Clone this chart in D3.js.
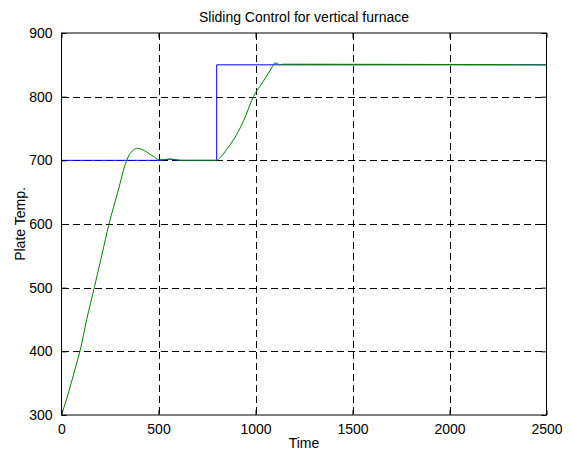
<!DOCTYPE html>
<html>
<head>
<meta charset="utf-8">
<script src="https://cdn.jsdelivr.net/npm/d3@7"></script>
<style>
  html, body { margin: 0; padding: 0; background: #ffffff; }
  svg { display: block; }
  text { font-family: "Liberation Sans", Arial, Helvetica, sans-serif; fill: #000; }
</style>
</head>
<body>
<svg id="chart" width="573" height="452"></svg>
<script>
// ---- data ----
const title = "Sliding Control for vertical furnace";
const xLabel = "Time";
const yLabel = "Plate Temp.";
const xTicks = [0, 500, 1000, 1500, 2000, 2500];
const yTicks = [300, 400, 500, 600, 700, 800, 900];

// reference (blue)
const refTime = [0, 520, 540, 560, 580, 600, 800, 800, 2500];
const refTemp = [700, 700, 701.5, 702, 701, 700, 700, 850, 850];

// plate temperature (green)
const plateTime = [0, 25, 50, 75, 95, 130, 169, 207, 245, 290, 336, 350, 370, 391, 415, 439, 470, 503, 530, 560, 590, 620, 800, 817, 851, 886, 937, 989, 1040, 1083, 1100, 1113, 1126, 1140, 2500];
const plateTemp = [300, 324, 350, 378, 400, 450, 500, 550, 600, 650, 700, 709, 716, 719, 717, 713, 707, 701, 701, 702, 701, 700, 700, 704, 717, 732, 761, 800, 824, 845, 853, 852, 850, 851, 850];

// ---- layout ----
const svg = d3.select("#chart");
const L = 61.5, R = 546.5, T = 33, B = 415;

const x = d3.scaleLinear().domain([0, 2500]).range([L, R]);
const y = d3.scaleLinear().domain([300, 900]).range([B, T]);

svg.append("rect").attr("width", 573).attr("height", 452).attr("fill", "#fff");

// grid
const g = svg.append("g");
g.selectAll(".vg").data(xTicks.slice(1, -1)).join("line")
  .attr("x1", d => Math.round(x(d)) + 0.5).attr("x2", d => Math.round(x(d)) + 0.5)
  .attr("y1", T).attr("y2", B)
  .attr("stroke", "#000").attr("stroke-width", 1).attr("stroke-dasharray", "7,4")
  .attr("shape-rendering", "crispEdges");
g.selectAll(".hg").data(yTicks.slice(1, -1)).join("line")
  .attr("y1", d => Math.round(y(d)) + 0.5).attr("y2", d => Math.round(y(d)) + 0.5)
  .attr("x1", L).attr("x2", R)
  .attr("stroke", "#000").attr("stroke-width", 1).attr("stroke-dasharray", "7,4")
  .attr("shape-rendering", "crispEdges");

// lines
const refData = refTime.map((t, i) => [t, refTemp[i]]);
const plateData = plateTime.map((t, i) => [t, plateTemp[i]]);

svg.append("path").datum(refData)
  .attr("d", d3.line().x(d => x(d[0])).y(d => y(d[1])))
  .attr("fill", "none").attr("stroke", "#0000ff").attr("stroke-width", 1);

svg.append("path").datum(plateData)
  .attr("d", d3.line().curve(d3.curveMonotoneX).x(d => x(d[0])).y(d => y(d[1])))
  .attr("fill", "none").attr("stroke", "#008000").attr("stroke-width", 1);

// axes (inward ticks)
const fs = 14;
const axB = svg.append("g").attr("transform", `translate(0,${B})`)
  .call(d3.axisBottom(x).tickValues(xTicks).tickSize(-5).tickPadding(9).tickFormat(d3.format("d")));
const axL = svg.append("g").attr("transform", `translate(${L},0)`)
  .call(d3.axisLeft(y).tickValues(yTicks).tickSize(-5).tickPadding(9).tickFormat(d3.format("d")));
const axT = svg.append("g").attr("transform", `translate(0,${T})`)
  .call(d3.axisTop(x).tickValues(xTicks).tickSize(-5).tickFormat(""));
const axR = svg.append("g").attr("transform", `translate(${R},0)`)
  .call(d3.axisRight(y).tickValues(yTicks).tickSize(-5).tickFormat(""));

[axB, axL, axT, axR].forEach(a => {
  a.select(".domain").remove();
  a.selectAll("line").attr("stroke", "#000");
  a.selectAll("text").attr("font-size", fs).attr("font-family", "Liberation Sans, Arial, sans-serif").attr("fill", "#000");
});

// box
svg.append("rect").attr("x", L).attr("y", T).attr("width", R - L).attr("height", B - T)
  .attr("fill", "none").attr("stroke", "#000").attr("stroke-width", 1);

// labels
svg.append("text").attr("x", (L + R) / 2).attr("y", 22).attr("text-anchor", "middle")
  .attr("font-size", fs).text(title);
svg.append("text").attr("x", (L + R) / 2).attr("y", 448).attr("text-anchor", "middle")
  .attr("font-size", fs).text(xLabel);
svg.append("text").attr("transform", `translate(25,${(T + B) / 2}) rotate(-90)`)
  .attr("text-anchor", "middle").attr("font-size", fs).text(yLabel);
</script>
</body>
</html>
